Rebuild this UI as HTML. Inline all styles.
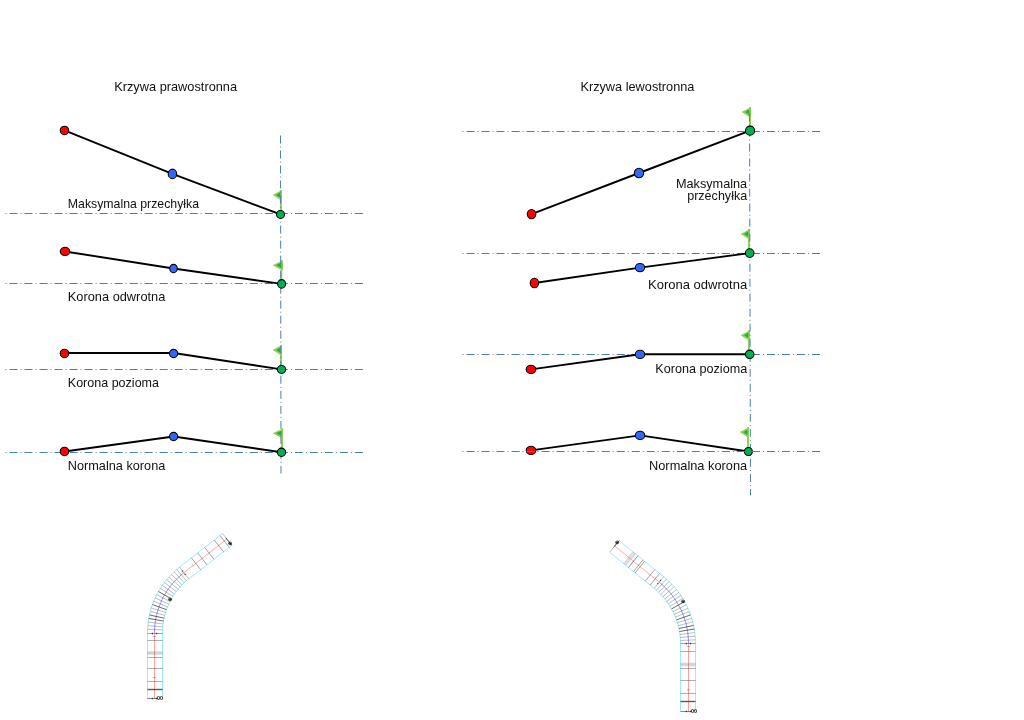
<!DOCTYPE html>
<html lang="pl"><head><meta charset="utf-8"><title>Krzywa prawostronna / lewostronna</title>
<style>html,body{margin:0;padding:0;background:#fff}body{width:1024px;height:720px;overflow:hidden}svg{display:block}text{font-family:"Liberation Sans",sans-serif;fill:#111}.dd{stroke:#4a7ebb;stroke-width:1;fill:none;stroke-dasharray:8 3.01 1 3.01}.ln{stroke:#000;stroke-width:1.9;fill:none;stroke-linejoin:round;stroke-linecap:round}.pt{stroke:#000;stroke-width:1.05}.edge{stroke:#8fdcf5;stroke-width:.8;fill:none}.tick{stroke:#333;stroke-width:.5;fill:none;opacity:.7}</style></head><body>
<svg width="1024" height="720" viewBox="0 0 1024 720">
<rect width="1024" height="720" fill="#fff"/>
<text x="114.2" y="90.7" font-size="12.6" text-anchor="start" textLength="122.9" lengthAdjust="spacingAndGlyphs">Krzywa prawostronna</text>
<g><rect x="279.90" y="190.00" width="2" height="21" fill="#92d050"/><path d="M281.90 190.00 L272.60 194.90 L280.10 199.70 L281.90 199.70Z" fill="#92d050"/><path d="M280.40 192.30 L276.00 194.95 L280.40 197.70Z" fill="#1fae4c"/></g>
<g><rect x="281.00" y="260.30" width="2" height="9.7" fill="#92d050"/><rect x="280.90" y="269.30" width="1.40" height="12" fill="#92d050"/><path d="M283.00 260.30 L272.60 265.20 L281.20 270.00 L283.00 270.00Z" fill="#92d050"/><path d="M281.50 262.60 L276.00 265.25 L281.50 268.00Z" fill="#1fae4c"/></g>
<g><rect x="279.90" y="345.10" width="2" height="21" fill="#92d050"/><path d="M281.90 345.10 L272.60 350.00 L280.10 354.80 L281.90 354.80Z" fill="#92d050"/><path d="M280.40 347.40 L276.00 350.05 L280.40 352.80Z" fill="#1fae4c"/></g>
<g><rect x="281.00" y="428.40" width="2" height="21" fill="#92d050"/><path d="M283.00 428.40 L272.60 433.30 L281.20 438.10 L283.00 438.10Z" fill="#92d050"/><path d="M281.50 430.70 L276.00 433.35 L281.50 436.10Z" fill="#1fae4c"/></g>
<path class="dd" d="M5.5 213.5H363" stroke-dashoffset="11.01"/>
<path class="dd" d="M5.5 283.5H363" stroke-dashoffset="11.01"/>
<path class="dd" d="M5.5 369.5H363" stroke-dashoffset="11.01"/>
<path class="dd" d="M5.5 452.5H363" stroke-dashoffset="11.01"/>
<path class="dd" d="M280.5 135.5L281.0 473.5" stroke-dashoffset="0"/>
<path class="ln" d="M64.5 130.45L172.45 173.9L280.5 214.4"/>
<circle class="pt" cx="64.5" cy="130.45" r="4.27" fill="#ff0000"/>
<ellipse class="pt" cx="172.45" cy="173.9" rx="4.27" ry="4.76" fill="#3366ff"/>
<circle class="pt" cx="280.5" cy="214.4" r="4.0" fill="#00b050"/>
<path class="ln" d="M65.0 251.45L173.5 268.5L281.6 283.9"/>
<ellipse class="pt" cx="65.0" cy="251.45" rx="4.79" ry="4.1" fill="#ff0000"/>
<ellipse class="pt" cx="173.5" cy="268.5" rx="3.8" ry="4.15" fill="#3366ff"/>
<ellipse class="pt" cx="281.6" cy="283.9" rx="4.0" ry="4.3" fill="#00b050"/>
<path class="ln" d="M64.5 353.0L173.6 353.0L281.5 369.4"/>
<circle class="pt" cx="64.5" cy="353.45" r="4.27" fill="#ff0000"/>
<circle class="pt" cx="173.6" cy="353.5" r="4.12" fill="#3366ff"/>
<ellipse class="pt" cx="281.5" cy="369.4" rx="4.17" ry="4.0" fill="#00b050"/>
<path class="ln" d="M64.5 451.45L173.6 436.5L281.5 452.3"/>
<circle class="pt" cx="64.5" cy="451.45" r="4.27" fill="#ff0000"/>
<circle class="pt" cx="173.6" cy="436.5" r="4.12" fill="#3366ff"/>
<circle class="pt" cx="281.5" cy="452.3" r="4.17" fill="#00b050"/>
<text x="67.8" y="207.6" font-size="12.6" text-anchor="start" textLength="131.3" lengthAdjust="spacingAndGlyphs">Maksymalna przechyłka</text>
<text x="67.8" y="300.8" font-size="12.6" text-anchor="start" textLength="97.5" lengthAdjust="spacingAndGlyphs">Korona odwrotna</text>
<text x="67.8" y="386.5" font-size="12.6" text-anchor="start" textLength="91.2" lengthAdjust="spacingAndGlyphs">Korona pozioma</text>
<text x="67.8" y="469.8" font-size="12.6" text-anchor="start" textLength="97.5" lengthAdjust="spacingAndGlyphs">Normalna korona</text>
<text x="580.4" y="90.7" font-size="12.6" text-anchor="start" textLength="114.0" lengthAdjust="spacingAndGlyphs">Krzywa lewostronna</text>
<g><rect x="748.90" y="107.00" width="2" height="21" fill="#92d050"/><path d="M750.90 107.00 L741.60 111.90 L749.10 116.70 L750.90 116.70Z" fill="#92d050"/><path d="M749.40 109.30 L745.00 111.95 L749.40 114.70Z" fill="#1fae4c"/></g>
<g><rect x="747.90" y="229.00" width="2" height="21" fill="#92d050"/><path d="M749.90 229.00 L740.60 233.90 L748.10 238.70 L749.90 238.70Z" fill="#92d050"/><path d="M748.40 231.30 L744.00 233.95 L748.40 236.70Z" fill="#1fae4c"/></g>
<g><rect x="747.90" y="330.30" width="2" height="21" fill="#92d050"/><path d="M749.90 330.30 L740.60 335.20 L748.10 340.00 L749.90 340.00Z" fill="#92d050"/><path d="M748.40 332.60 L744.00 335.25 L748.40 338.00Z" fill="#1fae4c"/></g>
<g><rect x="747.00" y="427.20" width="2" height="21" fill="#92d050"/><path d="M749.00 427.20 L739.70 432.10 L747.20 436.90 L749.00 436.90Z" fill="#92d050"/><path d="M747.50 429.50 L743.10 432.15 L747.50 434.90Z" fill="#1fae4c"/></g>
<path class="dd" d="M462.5 131.5H820" stroke-dashoffset="11.01"/>
<path class="dd" d="M462.5 253.5H820" stroke-dashoffset="11.01"/>
<path class="dd" d="M462.5 354.5H820" stroke-dashoffset="11.01"/>
<path class="ln" d="M531.55 214.1L639.0 173.0L750.05 130.7"/>
<ellipse class="pt" cx="531.55" cy="214.1" rx="4.3" ry="4.7" fill="#ff0000"/>
<ellipse class="pt" cx="639.0" cy="173.0" rx="4.7" ry="4.85" fill="#3366ff"/>
<path class="ln" d="M534.4 282.95L640.0 267.6L749.7 253.1"/>
<ellipse class="pt" cx="534.4" cy="282.95" rx="4.21" ry="4.71" fill="#ff0000"/>
<ellipse class="pt" cx="640.0" cy="267.6" rx="4.67" ry="4.1" fill="#3366ff"/>
<path class="ln" d="M531.0 369.4L640.05 354.2L749.7 354.2"/>
<ellipse class="pt" cx="531.0" cy="369.4" rx="4.79" ry="4.1" fill="#ff0000"/>
<ellipse class="pt" cx="640.05" cy="354.4" rx="4.73" ry="4.1" fill="#3366ff"/>
<path class="ln" d="M531.0 450.4L640.05 435.4L748.4 451.5"/>
<ellipse class="pt" cx="531.0" cy="450.4" rx="4.79" ry="4.1" fill="#ff0000"/>
<ellipse class="pt" cx="640.05" cy="435.4" rx="4.73" ry="4.1" fill="#3366ff"/>
<path class="dd" d="M749.5 113.5L750.5 495.5" stroke-dashoffset="0"/>
<circle class="pt" cx="750.05" cy="130.7" r="4.57" fill="#00b050"/>
<circle class="pt" cx="749.7" cy="253.1" r="4.3" fill="#00b050"/>
<ellipse class="pt" cx="749.7" cy="354.3" rx="4.3" ry="4.17" fill="#00b050"/>
<circle class="pt" cx="748.4" cy="451.5" r="4.0" fill="#00b050"/>
<path class="dd" d="M462.5 451.5H820" stroke-dashoffset="11.01"/>
<text x="747.2" y="187.7" font-size="12.6" text-anchor="end" textLength="71.3" lengthAdjust="spacingAndGlyphs">Maksymalna</text>
<text x="747.2" y="199.5" font-size="12.6" text-anchor="end" textLength="60.0" lengthAdjust="spacingAndGlyphs">przechyłka</text>
<text x="747.2" y="288.9" font-size="12.6" text-anchor="end" textLength="99.2" lengthAdjust="spacingAndGlyphs">Korona odwrotna</text>
<text x="747.2" y="372.8" font-size="12.6" text-anchor="end" textLength="91.9" lengthAdjust="spacingAndGlyphs">Korona pozioma</text>
<text x="747.2" y="470.2" font-size="12.6" text-anchor="end" textLength="98.2" lengthAdjust="spacingAndGlyphs">Normalna korona</text>
<g fill="none">
<path d="M147.50 698.50L147.50 696.39L147.50 694.29L147.50 692.18L147.50 690.08L147.50 687.97L147.50 685.86L147.50 683.76L147.50 681.65L147.50 679.55L147.50 677.44L147.50 675.33L147.50 673.23L147.50 671.12L147.50 669.01L147.50 666.91L147.50 664.80L147.50 662.70L147.50 660.59L147.50 658.48L147.50 656.38L147.50 654.27L147.50 652.17L147.50 650.06L147.50 647.95L147.50 645.85L147.50 643.74L147.50 641.64L147.50 639.53L147.50 637.42L147.50 635.32L147.50 633.21L147.52 630.95L147.60 628.65L147.75 626.36L147.96 624.07L148.23 621.78L148.57 619.51L148.97 617.25L149.43 614.99L149.95 612.75L150.53 610.53L151.18 608.32L151.88 606.14L152.65 603.97L153.47 601.82L154.36 599.70L155.30 597.60L156.30 595.53L157.36 593.49L158.47 591.48L159.64 589.50L160.86 587.55L162.14 585.64L163.47 583.76L164.84 581.92L166.27 580.12L167.75 578.36L169.28 576.64L170.85 574.96L172.47 573.33L174.13 571.74L175.84 570.20L177.59 568.71L179.38 567.27L181.05 565.96L182.71 564.66L184.37 563.37L186.03 562.07L187.69 560.77L189.35 559.48L191.01 558.18L192.67 556.88L194.33 555.59L195.99 554.29L197.65 552.99L199.31 551.70L200.97 550.40L202.63 549.10L204.28 547.81L205.94 546.51L207.60 545.21L209.26 543.92L210.92 542.62L212.58 541.32L214.24 540.03L215.90 538.73L217.56 537.43L219.22 536.14L220.88 534.84L222.54 533.54" stroke="#9ce6ff" stroke-width="1"/>
<path d="M162.50 698.50L162.50 696.39L162.50 694.29L162.50 692.18L162.50 690.08L162.50 687.97L162.50 685.86L162.50 683.76L162.50 681.65L162.50 679.55L162.50 677.44L162.50 675.33L162.50 673.23L162.50 671.12L162.50 669.01L162.50 666.91L162.50 664.80L162.50 662.70L162.50 660.59L162.50 658.48L162.50 656.38L162.50 654.27L162.50 652.17L162.50 650.06L162.50 647.95L162.50 645.85L162.50 643.74L162.50 641.64L162.50 639.53L162.50 637.42L162.50 635.32L162.50 633.21L162.52 631.28L162.58 629.40L162.70 627.52L162.88 625.64L163.10 623.77L163.37 621.90L163.70 620.05L164.08 618.20L164.51 616.36L164.99 614.54L165.52 612.73L166.09 610.94L166.72 609.16L167.40 607.40L168.12 605.66L168.90 603.94L169.72 602.24L170.58 600.57L171.50 598.92L172.45 597.29L173.46 595.70L174.50 594.13L175.59 592.59L176.72 591.08L177.89 589.61L179.11 588.16L180.36 586.75L181.65 585.38L182.97 584.04L184.34 582.74L185.74 581.47L187.17 580.25L188.64 579.07L190.29 577.78L191.94 576.48L193.60 575.19L195.26 573.89L196.92 572.59L198.58 571.30L200.24 570.00L201.90 568.70L203.56 567.41L205.22 566.11L206.88 564.81L208.54 563.52L210.20 562.22L211.86 560.92L213.52 559.63L215.18 558.33L216.84 557.03L218.50 555.74L220.16 554.44L221.82 553.14L223.48 551.85L225.14 550.55L226.80 549.25L228.46 547.96L230.12 546.66L231.78 545.36" stroke="#9ce6ff" stroke-width="1"/>
<path d="M154.50 698.50L154.50 632.80" stroke="#ff9e9e" stroke-width="1"/>
<path d="M154.50 632.80L154.52 631.07L154.58 629.34L154.68 627.61L154.81 625.88L154.99 624.16L155.21 622.44L155.46 620.73L155.75 619.03L156.09 617.33L156.46 615.64L156.86 613.95L157.31 612.28L157.80 610.62L158.32 608.97L158.88 607.33L159.47 605.71L160.11 604.09L160.78 602.50L161.48 600.92L162.22 599.35L163.00 597.81L163.81 596.28L164.66 594.77L165.54 593.27L166.45 591.80L167.40 590.35L168.38 588.93L169.39 587.52L170.43 586.14L171.50 584.78L172.61 583.45L173.74 582.14L174.91 580.86L176.10 579.61L177.32 578.38L178.57 577.18L179.84 576.01L181.15 574.87L182.47 573.76L183.83 572.67" stroke="#9090ff" stroke-width="1"/>
<path d="M183.83 572.67L226.85 539.06" stroke="#ff9e9e" stroke-width=".9"/>
<path d="M147.50 689.50L162.50 689.50" stroke="#1c2424" stroke-width="1.4" opacity="0.75"/>
<path d="M147.50 681.50L162.50 681.50" stroke="#1c2424" stroke-width="1" opacity="0.36"/>
<path d="M147.50 668.50L162.50 668.50" stroke="#1c2424" stroke-width="1" opacity="0.36"/>
<path d="M147.50 657.50L162.50 657.50" stroke="#1c2424" stroke-width="1" opacity="0.36"/>
<path d="M147.50 640.50L162.50 640.50" stroke="#1c2424" stroke-width="1" opacity="0.36"/>
<path d="M147.50 654.27L162.50 654.27" stroke="#1c2424" stroke-width="0.5" opacity="0.34"/>
<path d="M147.50 653.42L162.50 653.42" stroke="#1c2424" stroke-width="0.5" opacity="0.34"/>
<path d="M147.50 652.58L162.50 652.58" stroke="#1c2424" stroke-width="0.5" opacity="0.34"/>
<path d="M147.50 651.73L162.50 651.73" stroke="#1c2424" stroke-width="0.5" opacity="0.34"/>
<path d="M152.90 677.50L156.10 677.50" stroke="#1c2424" stroke-width="1" opacity="0.3"/>
<path d="M152.90 636.50L156.10 636.50" stroke="#1c2424" stroke-width="1" opacity="0.3"/>
<path d="M147.50 633.50L162.50 633.50" stroke="#1c2424" stroke-width="1" opacity="0.42"/>
<path d="M147.58 629.20L162.56 629.85" stroke="#1c2424" stroke-width="0.55" opacity="0.55"/>
<path d="M147.81 625.61L162.75 626.90" stroke="#1c2424" stroke-width="0.55" opacity="0.55"/>
<path d="M148.20 622.03L163.07 623.97" stroke="#1c2424" stroke-width="0.55" opacity="0.55"/>
<path d="M148.74 618.47L163.52 621.05" stroke="#1c2424" stroke-width="0.9" opacity="0.75"/>
<path d="M149.44 614.94L164.09 618.16" stroke="#1c2424" stroke-width="0.9" opacity="0.75"/>
<path d="M150.28 611.44L164.78 615.29" stroke="#1c2424" stroke-width="0.55" opacity="0.55"/>
<path d="M151.28 607.98L165.60 612.45" stroke="#1c2424" stroke-width="0.55" opacity="0.55"/>
<path d="M152.43 604.57L166.54 609.65" stroke="#1c2424" stroke-width="0.9" opacity="0.75"/>
<path d="M153.72 601.21L167.60 606.90" stroke="#1c2424" stroke-width="0.55" opacity="0.55"/>
<path d="M155.16 597.91L168.78 604.19" stroke="#1c2424" stroke-width="0.55" opacity="0.55"/>
<path d="M156.74 594.67L170.07 601.54" stroke="#1c2424" stroke-width="0.55" opacity="0.55"/>
<path d="M158.45 591.51L171.48 598.95" stroke="#1c2424" stroke-width="0.9" opacity="0.75"/>
<path d="M160.30 588.42L173.00 596.41" stroke="#1c2424" stroke-width="0.55" opacity="0.55"/>
<path d="M162.29 585.42L174.62 593.95" stroke="#1c2424" stroke-width="0.55" opacity="0.55"/>
<path d="M164.40 582.50L176.36 591.56" stroke="#1c2424" stroke-width="0.55" opacity="0.55"/>
<path d="M166.63 579.68L178.19 589.25" stroke="#1c2424" stroke-width="0.55" opacity="0.55"/>
<path d="M168.99 576.96L180.12 587.01" stroke="#1c2424" stroke-width="0.55" opacity="0.55"/>
<path d="M171.46 574.34L182.14 584.87" stroke="#1c2424" stroke-width="0.55" opacity="0.55"/>
<path d="M174.04 571.83L184.26 582.81" stroke="#1c2424" stroke-width="0.55" opacity="0.55"/>
<path d="M176.73 569.44L186.46 580.85" stroke="#1c2424" stroke-width="0.55" opacity="0.55"/>
<path d="M179.52 567.16L188.75 578.98" stroke="#1c2424" stroke-width="0.55" opacity="0.55"/>
<path d="M191.41 557.86L200.65 569.68" stroke="#1c2424" stroke-width="0.7" opacity="0.6"/>
<path d="M197.72 552.94L206.95 564.76" stroke="#1c2424" stroke-width="0.7" opacity="0.6"/>
<path d="M204.73 547.46L213.97 559.28" stroke="#1c2424" stroke-width="0.7" opacity="0.6"/>
<path d="M214.27 540.01L223.50 551.83" stroke="#1c2424" stroke-width="0.7" opacity="0.6"/>
<path d="M219.94 535.58L229.18 547.40" stroke="#1c2424" stroke-width="0.7" opacity="0.6"/>
<path d="M192.14 564.15L194.11 566.67" stroke="#1c2424" stroke-width="0.7" opacity="0.4"/>
<path d="M147.50 698.50L158.00 698.50" stroke="#1c2424" stroke-width="1" opacity="0.55"/>
<path d="M222.54 533.54L231.78 545.36" stroke="#1c2424" stroke-width="0.6" opacity="0.5"/>
<path d="M225.93 537.88L231.78 545.36" stroke="#1c2424" stroke-width="0.9" opacity="0.75"/>
<path d="M151.80 698.50L153.00 698.50" stroke="#1c2424" stroke-width="1.3" opacity="0.85"/>
<path d="M156.00 698.50L157.20 698.50" stroke="#1c2424" stroke-width="1.3" opacity="0.85"/>
<path d="M151.80 633.50L153.00 633.50" stroke="#1c2424" stroke-width="1.3" opacity="0.85"/>
<path d="M156.00 633.50L157.20 633.50" stroke="#1c2424" stroke-width="1.3" opacity="0.85"/>
<path d="M182.16 570.55L182.90 571.49" stroke="#1c2424" stroke-width="1.3" opacity="0.85"/>
<path d="M184.75 573.86L185.49 574.80" stroke="#1c2424" stroke-width="1.3" opacity="0.85"/>
</g>
<text x="160.1" y="700.4" font-size="5.4" font-weight="bold" text-anchor="middle" fill="#222">00</text>
<text x="170.3" y="601.0" font-size="5.4" font-weight="bold" text-anchor="middle" fill="#222">⊕</text>
<text x="230.3" y="544.9" font-size="5.4" font-weight="bold" text-anchor="middle" fill="#222">⊕</text>
<g fill="none">
<path d="M680.50 711.50L680.50 709.33L680.50 707.15L680.50 704.98L680.50 702.81L680.50 700.63L680.50 698.46L680.50 696.29L680.50 694.11L680.50 691.94L680.50 689.76L680.50 687.59L680.50 685.42L680.50 683.24L680.50 681.07L680.50 678.90L680.50 676.72L680.50 674.55L680.50 672.38L680.50 670.20L680.50 668.03L680.50 665.86L680.50 663.68L680.50 661.51L680.50 659.33L680.50 657.16L680.50 654.99L680.50 652.81L680.50 650.64L680.50 648.47L680.50 646.29L680.50 644.12L680.49 642.10L680.42 640.15L680.30 638.20L680.13 636.26L679.90 634.32L679.62 632.38L679.29 630.46L678.91 628.54L678.47 626.64L677.98 624.75L677.44 622.87L676.84 621.01L676.20 619.17L675.51 617.34L674.76 615.53L673.97 613.75L673.12 611.99L672.23 610.25L671.29 608.54L670.31 606.85L669.28 605.19L668.20 603.56L667.08 601.96L665.92 600.39L664.71 598.86L663.46 597.35L662.17 595.89L660.84 594.46L659.47 593.06L658.06 591.71L656.62 590.39L655.14 589.11L653.57 587.83L651.88 586.46L650.19 585.09L648.50 583.72L646.81 582.36L645.12 580.99L643.43 579.62L641.75 578.25L640.06 576.88L638.37 575.52L636.68 574.15L634.99 572.78L633.30 571.41L631.61 570.04L629.92 568.68L628.23 567.31L626.54 565.94L624.85 564.57L623.16 563.21L621.48 561.84L619.79 560.47L618.10 559.10L616.41 557.73L614.72 556.37L613.03 555.00L611.34 553.63L609.65 552.26" stroke="#9ce6ff" stroke-width="1"/>
<path d="M695.50 711.50L695.50 709.33L695.50 707.15L695.50 704.98L695.50 702.81L695.50 700.63L695.50 698.46L695.50 696.29L695.50 694.11L695.50 691.94L695.50 689.76L695.50 687.59L695.50 685.42L695.50 683.24L695.50 681.07L695.50 678.90L695.50 676.72L695.50 674.55L695.50 672.38L695.50 670.20L695.50 668.03L695.50 665.86L695.50 663.68L695.50 661.51L695.50 659.33L695.50 657.16L695.50 654.99L695.50 652.81L695.50 650.64L695.50 648.47L695.50 646.29L695.50 644.12L695.48 641.81L695.40 639.44L695.26 637.08L695.05 634.73L694.78 632.38L694.44 630.03L694.04 627.70L693.57 625.38L693.04 623.08L692.45 620.79L691.79 618.51L691.07 616.26L690.29 614.02L689.45 611.81L688.55 609.63L687.59 607.46L686.57 605.33L685.49 603.22L684.35 601.15L683.16 599.11L681.91 597.10L680.60 595.12L679.25 593.18L677.83 591.29L676.37 589.42L674.86 587.61L673.30 585.83L671.69 584.10L670.03 582.41L668.32 580.77L666.58 579.17L664.79 577.63L663.01 576.17L661.32 574.80L659.63 573.43L657.94 572.07L656.25 570.70L654.56 569.33L652.87 567.96L651.19 566.59L649.50 565.23L647.81 563.86L646.12 562.49L644.43 561.12L642.74 559.76L641.05 558.39L639.36 557.02L637.67 555.65L635.98 554.28L634.29 552.92L632.60 551.55L630.92 550.18L629.23 548.81L627.54 547.44L625.85 546.08L624.16 544.71L622.47 543.34L620.78 541.97L619.09 540.61" stroke="#9ce6ff" stroke-width="1"/>
<path d="M688.50 711.50L688.50 643.50" stroke="#ff9e9e" stroke-width="1"/>
<path d="M688.50 643.50L688.48 641.74L688.42 639.99L688.32 638.23L688.19 636.48L688.01 634.73L687.80 632.98L687.54 631.24L687.25 629.51L686.92 627.78L686.55 626.06L686.15 624.35L685.70 622.65L685.22 620.96L684.70 619.28L684.14 617.62L683.55 615.96L682.91 614.32L682.25 612.70L681.54 611.08L680.80 609.49L680.03 607.91L679.22 606.35L678.38 604.81L677.50 603.29L676.59 601.78L675.64 600.30L674.66 598.84L673.65 597.40L672.61 595.98L671.54 594.59L670.44 593.22L669.30 591.88L668.14 590.56L666.95 589.27L665.73 588.01L664.48 586.77L663.20 585.56L661.90 584.38L660.57 583.23L659.22 582.11" stroke="#9090ff" stroke-width="1"/>
<path d="M659.22 582.11L614.69 546.05" stroke="#ff9e9e" stroke-width=".9"/>
<path d="M680.50 701.50L695.50 701.50" stroke="#1c2424" stroke-width="1.4" opacity="0.75"/>
<path d="M680.50 693.50L695.50 693.50" stroke="#1c2424" stroke-width="1" opacity="0.36"/>
<path d="M680.50 680.50L695.50 680.50" stroke="#1c2424" stroke-width="1" opacity="0.36"/>
<path d="M680.50 668.50L695.50 668.50" stroke="#1c2424" stroke-width="1" opacity="0.36"/>
<path d="M680.50 651.50L695.50 651.50" stroke="#1c2424" stroke-width="1" opacity="0.36"/>
<path d="M680.50 665.77L695.50 665.77" stroke="#1c2424" stroke-width="0.5" opacity="0.34"/>
<path d="M680.50 664.92L695.50 664.92" stroke="#1c2424" stroke-width="0.5" opacity="0.34"/>
<path d="M680.50 664.08L695.50 664.08" stroke="#1c2424" stroke-width="0.5" opacity="0.34"/>
<path d="M680.50 663.23L695.50 663.23" stroke="#1c2424" stroke-width="0.5" opacity="0.34"/>
<path d="M686.90 689.80L690.10 689.80" stroke="#1c2424" stroke-width="1" opacity="0.3"/>
<path d="M686.90 646.50L690.10 646.50" stroke="#1c2424" stroke-width="1" opacity="0.3"/>
<path d="M680.50 643.50L695.50 643.50" stroke="#1c2424" stroke-width="1" opacity="0.42"/>
<path d="M680.44 640.49L695.42 639.86" stroke="#1c2424" stroke-width="0.55" opacity="0.55"/>
<path d="M680.25 637.49L695.19 636.22" stroke="#1c2424" stroke-width="0.55" opacity="0.55"/>
<path d="M679.93 634.50L694.81 632.59" stroke="#1c2424" stroke-width="0.55" opacity="0.55"/>
<path d="M679.48 631.52L694.27 628.99" stroke="#1c2424" stroke-width="0.9" opacity="0.75"/>
<path d="M678.91 628.57L693.58 625.41" stroke="#1c2424" stroke-width="0.9" opacity="0.75"/>
<path d="M678.22 625.64L692.73 621.86" stroke="#1c2424" stroke-width="0.55" opacity="0.55"/>
<path d="M677.40 622.74L691.74 618.36" stroke="#1c2424" stroke-width="0.55" opacity="0.55"/>
<path d="M676.46 619.88L690.60 614.89" stroke="#1c2424" stroke-width="0.9" opacity="0.75"/>
<path d="M675.40 617.07L689.32 611.48" stroke="#1c2424" stroke-width="0.55" opacity="0.55"/>
<path d="M674.22 614.30L687.89 608.13" stroke="#1c2424" stroke-width="0.55" opacity="0.55"/>
<path d="M672.92 611.58L686.32 604.84" stroke="#1c2424" stroke-width="0.55" opacity="0.55"/>
<path d="M671.51 608.92L684.61 601.62" stroke="#1c2424" stroke-width="0.9" opacity="0.75"/>
<path d="M669.99 606.33L682.77 598.47" stroke="#1c2424" stroke-width="0.55" opacity="0.55"/>
<path d="M668.36 603.80L680.80 595.41" stroke="#1c2424" stroke-width="0.55" opacity="0.55"/>
<path d="M666.63 601.34L678.70 592.43" stroke="#1c2424" stroke-width="0.55" opacity="0.55"/>
<path d="M664.79 598.96L676.47 589.55" stroke="#1c2424" stroke-width="0.55" opacity="0.55"/>
<path d="M662.85 596.65L674.12 586.76" stroke="#1c2424" stroke-width="0.55" opacity="0.55"/>
<path d="M660.82 594.43L671.66 584.07" stroke="#1c2424" stroke-width="0.55" opacity="0.55"/>
<path d="M658.69 592.30L669.09 581.49" stroke="#1c2424" stroke-width="0.55" opacity="0.55"/>
<path d="M656.48 590.27L666.40 579.02" stroke="#1c2424" stroke-width="0.55" opacity="0.55"/>
<path d="M654.18 588.32L663.62 576.67" stroke="#1c2424" stroke-width="0.55" opacity="0.55"/>
<path d="M650.14 585.05L659.58 573.39" stroke="#1c2424" stroke-width="0.7" opacity="0.6"/>
<path d="M645.32 581.15L654.76 569.49" stroke="#1c2424" stroke-width="0.7" opacity="0.6"/>
<path d="M635.14 572.90L644.58 561.25" stroke="#1c2424" stroke-width="0.7" opacity="0.6"/>
<path d="M633.51 571.58L642.95 559.93" stroke="#1c2424" stroke-width="0.7" opacity="0.6"/>
<path d="M628.46 567.49L637.90 555.83" stroke="#1c2424" stroke-width="0.8" opacity="0.65"/>
<path d="M625.97 565.48L635.41 553.82" stroke="#1c2424" stroke-width="0.4" opacity="0.42"/>
<path d="M625.35 564.97L634.79 553.32" stroke="#1c2424" stroke-width="0.4" opacity="0.42"/>
<path d="M624.73 564.47L634.17 552.81" stroke="#1c2424" stroke-width="0.4" opacity="0.42"/>
<path d="M624.11 563.97L633.55 552.31" stroke="#1c2424" stroke-width="0.4" opacity="0.42"/>
<path d="M623.48 563.46L632.92 551.81" stroke="#1c2424" stroke-width="0.4" opacity="0.42"/>
<path d="M680.50 711.50L692.00 711.50" stroke="#1c2424" stroke-width="1" opacity="0.55"/>
<path d="M609.65 552.26L619.09 540.61" stroke="#1c2424" stroke-width="0.6" opacity="0.5"/>
<path d="M613.74 547.21L619.09 540.61" stroke="#1c2424" stroke-width="0.9" opacity="0.75"/>
<path d="M685.80 711.50L687.00 711.50" stroke="#1c2424" stroke-width="1.3" opacity="0.85"/>
<path d="M690.00 711.50L691.20 711.50" stroke="#1c2424" stroke-width="1.3" opacity="0.85"/>
<path d="M685.80 643.50L687.00 643.50" stroke="#1c2424" stroke-width="1.3" opacity="0.85"/>
<path d="M690.00 643.50L691.20 643.50" stroke="#1c2424" stroke-width="1.3" opacity="0.85"/>
<path d="M657.52 584.20L658.27 583.27" stroke="#1c2424" stroke-width="1.3" opacity="0.85"/>
<path d="M660.16 580.94L660.92 580.01" stroke="#1c2424" stroke-width="1.3" opacity="0.85"/>
</g>
<text x="694.1" y="713.4" font-size="5.4" font-weight="bold" text-anchor="middle" fill="#222">00</text>
<text x="683.2" y="603.1" font-size="5.4" font-weight="bold" text-anchor="middle" fill="#222">⊕</text>
<text x="617.4" y="544.1" font-size="5.4" font-weight="bold" text-anchor="middle" fill="#222">⊕</text>
</svg></body></html>
